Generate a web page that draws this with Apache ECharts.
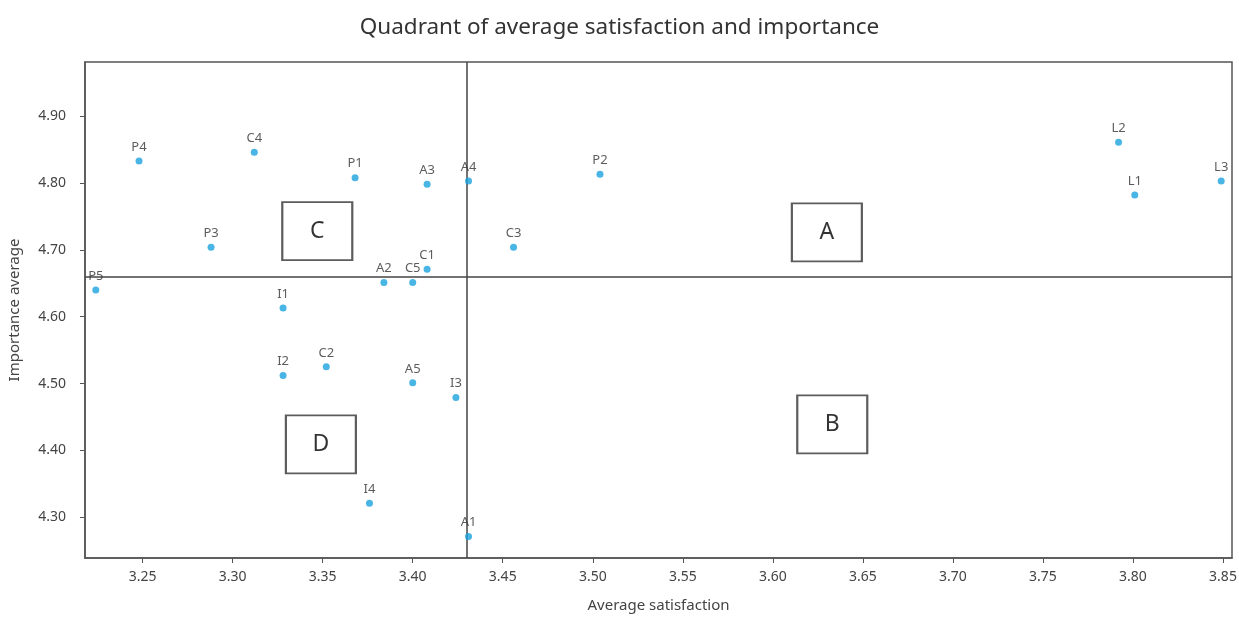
<!DOCTYPE html>
<html>
<head>
<meta charset="utf-8">
<script src="https://cdn.jsdelivr.net/npm/echarts@6/dist/echarts.min.js"></script>
<style>
html,body{margin:0;padding:0;background:#fff;}
#chart{width:1239px;height:627px;}
</style>
</head>
<body>
<div id="chart"></div>
<script>
const itemNames = ['P4','C4','P1','A3','A4','P2','L2','L1','L3','P3','C3','C1','A2','C5','P5','I1','I2','C2','A5','I3','I4','A1'];
const satisfaction = [3.248,3.312,3.368,3.408,3.431,3.504,3.792,3.801,3.849,3.288,3.456,3.408,3.384,3.400,3.224,3.328,3.328,3.352,3.400,3.424,3.376,3.431];
const importance = [4.833,4.846,4.808,4.798,4.803,4.813,4.861,4.782,4.803,4.704,4.704,4.671,4.651,4.651,4.640,4.613,4.512,4.525,4.501,4.479,4.321,4.271];

const satMean = 3.43;
const impMean = 4.66;

const quadNames = ['A','B','C','D'];
const quadSat = [3.630,3.633,3.347,3.349];
const quadImp = [4.726,4.439,4.728,4.409];

const xRange = [3.218, 3.855];
const yRange = [4.239, 4.981];

const FONT = '"Noto Sans", "Open Sans", sans-serif';

const chart = echarts.init(document.getElementById('chart'), null, {renderer: 'canvas'});

const points = itemNames.map((n, i) => ({name: n, value: [satisfaction[i], importance[i]]}));
const quads = quadNames.map((n, i) => ({name: n, value: [quadSat[i], quadImp[i]]}));

chart.setOption({
  backgroundColor: '#fff',
  animation: false,
  title: {
    text: 'Quadrant of average satisfaction and importance',
    left: 'center',
    top: 11,
    textStyle: {fontFamily: FONT, fontSize: 22.5, fontWeight: 'normal', color: '#333'}
  },
  grid: {
    left: 85, top: 62, right: 7, bottom: 69,
    containLabel: false,
    outerBoundsMode: 'none',
    show: true, borderColor: '#555', borderWidth: 1.5, backgroundColor: '#fff'
  },
  xAxis: {
    type: 'value',
    min: xRange[0], max: xRange[1],
    minInterval: 0.05, maxInterval: 0.05, splitNumber: 12,
    name: 'Average satisfaction',
    nameLocation: 'middle', nameGap: 40,
    nameTextStyle: {fontFamily: FONT, fontSize: 15, color: '#444'},
    axisLine: {show: true, onZero: false, lineStyle: {color: '#555', width: 1.5}},
    axisTick: {show: true, length: 5, lineStyle: {color: '#555'}},
    splitLine: {show: false},
    axisLabel: {
      fontFamily: FONT, fontSize: 14, color: '#444', margin: 12,
      showMinLabel: false, showMaxLabel: false,
      formatter: v => v.toFixed(2)
    }
  },
  yAxis: {
    type: 'value',
    min: yRange[0], max: yRange[1],
    minInterval: 0.1, maxInterval: 0.1, splitNumber: 7,
    name: 'Importance average',
    nameLocation: 'middle', nameGap: 63,
    nameTextStyle: {fontFamily: FONT, fontSize: 15, color: '#444'},
    axisLine: {show: true, onZero: false, lineStyle: {color: '#555', width: 1.5}},
    axisTick: {show: true, length: 5, lineStyle: {color: '#555'}},
    splitLine: {show: false},
    axisLabel: {
      fontFamily: FONT, fontSize: 14, color: '#444', margin: 19,
      showMinLabel: false, showMaxLabel: false,
      formatter: v => v.toFixed(2)
    }
  },
  series: [
    {
      type: 'scatter',
      name: 'lines',
      data: [],
      silent: true,
      markLine: {
        silent: true,
        symbol: ['none', 'none'],
        animation: false,
        label: {show: false},
        lineStyle: {color: '#444', width: 1.5, type: 'solid'},
        data: [{xAxis: satMean}, {yAxis: impMean}]
      },
      z: 1
    },
    {
      type: 'scatter',
      name: 'items',
      data: points,
      symbol: 'circle',
      symbolSize: 7,
      itemStyle: {color: '#1AA3DF'},
      label: {
        show: true,
        position: 'top',
        distance: 4,
        formatter: p => p.name,
        fontFamily: FONT, fontSize: 13, color: '#333'
      },
      z: 5
    },
    {
      type: 'scatter',
      name: 'quadrants',
      data: quads,
      symbol: 'rect',
      symbolSize: [70, 58],
      itemStyle: {color: '#fff', borderColor: '#333', borderWidth: 2},
      label: {
        show: true,
        position: 'inside',
        formatter: p => p.name,
        fontFamily: FONT, fontSize: 23, color: '#000'
      },
      silent: true,
      z: 4
    },
    {
      type: 'scatter',
      name: 'meanX',
      data: [[satMean, yRange[1]]],
      symbolSize: 0,
      itemStyle: {opacity: 0},
      label: {
        show: true, position: 'right', distance: 7, offset: [0, 13],
        formatter: () => satMean.toFixed(2),
        fontFamily: FONT, fontSize: 12, fontStyle: 'italic', color: '#444'
      },
      silent: true, z: 6
    },
    {
      type: 'scatter',
      name: 'meanY',
      data: [[xRange[1], impMean]],
      symbolSize: 0,
      itemStyle: {opacity: 0},
      label: {
        show: true, position: 'left', distance: 11, offset: [0, -10],
        formatter: () => impMean.toFixed(2),
        fontFamily: FONT, fontSize: 12, fontStyle: 'italic', color: '#444'
      },
      silent: true, z: 6
    }
  ]
});
</script>
</body>
</html>
